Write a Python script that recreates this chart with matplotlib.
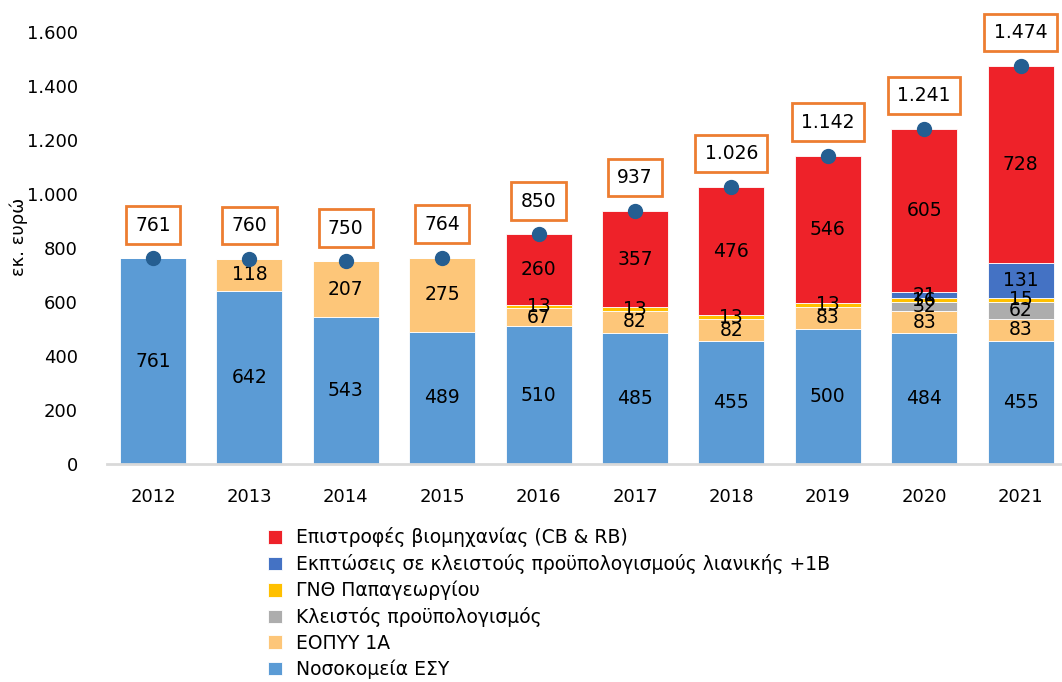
import matplotlib

matplotlib.use("Agg")
import matplotlib.pyplot as plt
import numpy as np
from matplotlib.ticker import FuncFormatter

plt.rcParams["font.family"] = ["DejaVu Sans"]

years = ["2012", "2013", "2014", "2015", "2016", "2017", "2018", "2019", "2020", "2021"]

# stacking order, bottom -> top
hospitals = [761, 642, 543, 489, 510, 485, 455, 500, 484, 455]
eopyy = [0, 118, 207, 275, 67, 82, 82, 83, 83, 83]
closed_budget = [0, 0, 0, 0, 0, 0, 0, 0, 32, 62]
gnth = [0, 0, 0, 0, 13, 13, 13, 13, 16, 15]
rebates = [0, 0, 0, 0, 0, 0, 0, 0, 21, 131]
returns = [0, 0, 0, 0, 260, 357, 476, 546, 605, 728]
totals = [761, 760, 750, 764, 850, 937, 1026, 1142, 1241, 1474]

series = [
    ("Νοσοκομεία ΕΣΥ", hospitals, "#5B9BD5"),
    ("ΕΟΠΥΥ 1Α", eopyy, "#FDC679"),
    ("Κλειστός προϋπολογισμός", closed_budget, "#ADADAD"),
    ("ΓΝΘ Παπαγεωργίου", gnth, "#FFC000"),
    ("Εκπτώσεις σε κλειστούς προϋπολογισμούς λιανικής +1Β", rebates, "#4472C4"),
    ("Επιστροφές βιομηχανίας (CB & RB)", returns, "#EE2229"),
]

fig = plt.figure(figsize=(10.62, 6.82), dpi=100)
ax = fig.add_axes([107 / 1062, 218 / 682, 1 - 107 / 1062, 464 / 682])

x = np.arange(len(years))
bottom = np.zeros(len(years))
handles = []
for name, vals, color in series:
    vals = np.array(vals, dtype=float)
    bars = ax.bar(x, vals, 0.685, bottom=bottom, color=color, label=name,
                  edgecolor="white", linewidth=0.6)
    handles.append(bars)
    for xi, b, v in zip(x, bottom, vals):
        if v > 0:
            ax.text(xi, b + v / 2, f"{int(v)}", ha="center", va="center",
                    fontsize=13.5, color="black")
    bottom += vals

ax.plot(x, totals, "o", color="#255E91", markersize=10, zorder=5)
for xi, t in zip(x, totals):
    ax.annotate(f"{t:,}".replace(",", "."), (xi, t), xytext=(0, 24),
                textcoords="offset points", ha="center", va="center",
                fontsize=13.5,
                bbox=dict(boxstyle="square,pad=0.5", fc="white",
                          ec="#ED7D31", lw=2))

ax.set_xlim(-0.477, 9.43)
ax.set_ylim(0, 1718)
ax.set_yticks(range(0, 1601, 200))
ax.yaxis.set_major_formatter(FuncFormatter(lambda v, p: f"{int(v):,}".replace(",", ".")))
ax.set_xticks(x)
ax.set_xticklabels(years)
ax.tick_params(axis="both", length=0, labelsize=13)
ax.tick_params(axis="x", pad=17)
ax.tick_params(axis="y", pad=21)
for s in ["top", "right", "left"]:
    ax.spines[s].set_visible(False)
ax.spines["bottom"].set_color("#D9D9D9")
ax.spines["bottom"].set_linewidth(2)
ax.set_ylabel("εκ. ευρώ", fontsize=13)
ax.yaxis.set_label_coords(-0.083, 0.49)

fig.legend(handles[::-1], [s[0] for s in series][::-1], loc="upper left",
           bbox_to_anchor=(259 / 1062, 1 - 518 / 682), frameon=False,
           fontsize=13.5, handlelength=0.75, handleheight=0.75, handletextpad=0.75,
           labelspacing=0.36, borderpad=0)

fig.savefig("out.png", dpi=100)
